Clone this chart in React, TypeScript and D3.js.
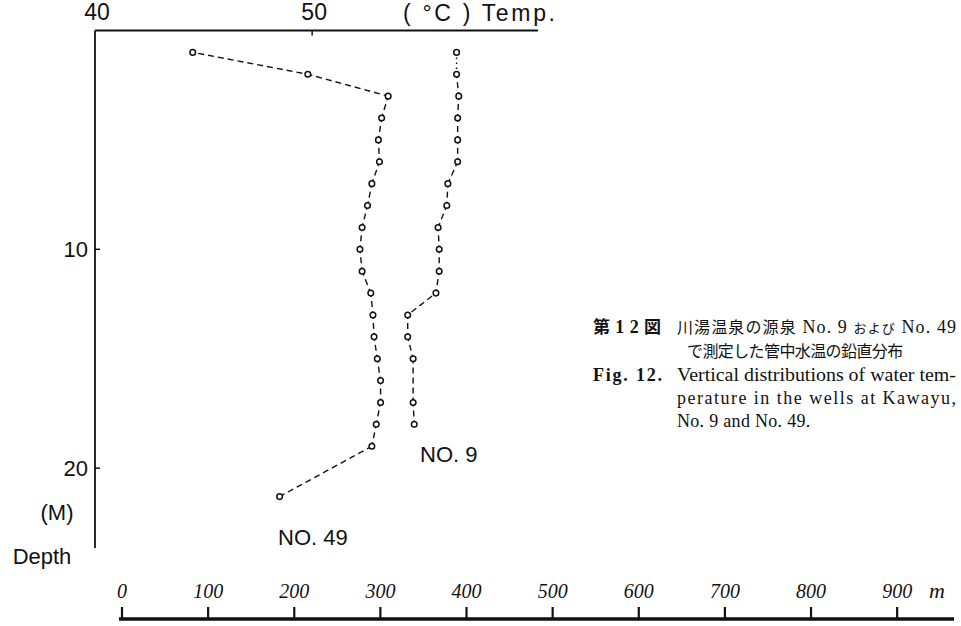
import React from "react";
import * as d3 from "d3";

// Well temperature profiles (depth in m, temperature in °C)
const no49Depth = [1, 2, 3, 4, 5, 6, 7, 8, 9, 10, 11, 12, 13, 14, 15, 16, 17, 18, 19, 21.3];
const no49Temp = [44.5, 49.8, 53.5, 53.2, 53.05, 53.1, 52.75, 52.55, 52.3, 52.2, 52.3, 52.7, 52.8, 52.85, 53.0, 53.15, 53.15, 52.95, 52.75, 48.5];

const no9Depth = [1, 2, 3, 4, 5, 6, 7, 8, 9, 10, 11, 12, 13, 14, 15, 17, 18];
const no9Temp = [56.65, 56.65, 56.75, 56.7, 56.7, 56.7, 56.25, 56.2, 55.8, 55.85, 55.85, 55.7, 54.4, 54.4, 54.65, 54.65, 54.7];

const tempTicks = [40, 50];
const depthTicks = [10, 20];
const distTicks = [0, 100, 200, 300, 400, 500, 600, 700, 800, 900];

const INK = "#111";
const SANS = "'Liberation Sans', Arial, sans-serif";
const SERIF = "'Liberation Serif', 'Times New Roman', serif";
const JP = "'Noto Sans CJK JP', sans-serif";

const W = 961;
const H = 626;

const x = d3.scaleLinear().domain([40, 60.4]).range([95, 538]);
const y = d3.scaleLinear().domain([0, 23.65]).range([30.5, 548]);
const xd = d3.scaleLinear().domain([0, 966]).range([122, 954]);

type Pt = { d: number; t: number };

function zip(depth: number[], temp: number[]): Pt[] {
  return depth.map((d, i) => ({ d, t: temp[i] }));
}

function Profile({ pts, dash, firstDash }: { pts: Pt[]; dash: [number, number]; firstDash?: string }) {
  const segs = d3.pairs(pts);
  return (
    <g>
      {segs.map(([a, b], i) => {
        const x1 = x(a.t), y1 = y(a.d), x2 = x(b.t), y2 = y(b.d);
        const L = Math.hypot(x2 - x1, y2 - y1);
        const da = i === 0 && firstDash ? firstDash : `${dash[0]} ${dash[1]}`;
        const off = i === 0 && firstDash ? 0 : dash[0] / 2 - L / 2;
        return (
          <line key={i} x1={x1} y1={y1} x2={x2} y2={y2} stroke={INK} strokeWidth={1.4}
            strokeDasharray={da} strokeDashoffset={off} />
        );
      })}
      {pts.map((p, i) => (
        <circle key={i} cx={x(p.t)} cy={y(p.d)} r={2.8} fill="#fff" stroke={INK} strokeWidth={1.5} />
      ))}
    </g>
  );
}

export default function App() {
  const no49 = zip(no49Depth, no49Temp);
  const no9 = zip(no9Depth, no9Temp);
  const [t0, t1] = x.domain();
  const [d0, d1] = y.domain();
  return (
    <svg width={W} height={H} style={{ position: "absolute", left: 0, top: 0, background: "#fff" }}>
      <rect width={W} height={H} fill="#fff" />

      {/* temperature axis (top) */}
      <line x1={x(t0)} y1={y(0)} x2={x(t1)} y2={y(0)} stroke={INK} strokeWidth={1.8} />
      {tempTicks.map((t) => (
        <g key={t}>
          {t !== t0 && <line x1={x(t)} y1={y(0)} x2={x(t)} y2={y(0) + 5} stroke={INK} strokeWidth={1.5} />}
          <text x={x(t) + 2} y={20} textAnchor="middle" fontFamily={SANS} fontSize={23} fill={INK}>{t}</text>
        </g>
      ))}
      <text x={403} y={21} fontFamily={SANS} fontSize={23} fill={INK} textLength={152} lengthAdjust="spacing">( °C ) Temp.</text>

      {/* depth axis (left) */}
      <line x1={x(t0)} y1={y(d0)} x2={x(t0)} y2={y(d1)} stroke={INK} strokeWidth={1.8} />
      {depthTicks.map((d) => (
        <g key={d}>
          <line x1={x(t0)} y1={y(d)} x2={x(t0) + 5} y2={y(d)} stroke={INK} strokeWidth={1.5} />
          <text x={88} y={y(d) + 8} textAnchor="end" fontFamily={SANS} fontSize={22} fill={INK}>{d}</text>
        </g>
      ))}
      <text x={57} y={520} textAnchor="middle" fontFamily={SANS} fontSize={22} fill={INK}>(M)</text>
      <text x={42} y={564} textAnchor="middle" fontFamily={SANS} fontSize={22} fill={INK}>Depth</text>

      {/* profiles */}
      <Profile pts={no49} dash={[6, 4]} />
      <Profile pts={no9} dash={[6, 4]} firstDash="1.5 3.5" />
      <text x={420} y={462} fontFamily={SANS} fontSize={22} fill={INK}>NO. 9</text>
      <text x={278} y={545} fontFamily={SANS} fontSize={22} fill={INK}>NO. 49</text>

      {/* caption */}
      <g fill={INK}>
        <text x={593} y={333} fontFamily={JP} fontSize={17} fontWeight="bold" textLength={68} lengthAdjust="spacing">
          第<tspan fontFamily={SERIF} fontSize={18}>12</tspan>図
        </text>
        <text x={677} y={333} fontFamily={JP} fontSize={16} textLength={279} lengthAdjust="spacing">
          川湯温泉の源泉<tspan fontFamily={SERIF} fontSize={18}> No. 9 </tspan><tspan fontSize={13}>および</tspan><tspan fontFamily={SERIF} fontSize={18}> No. 49</tspan>
        </text>
        <text x={687} y={357} fontFamily={JP} fontSize={16} letterSpacing={-0.6}>で測定した管中水温の鉛直分布</text>
        <text x={593} y={381} fontFamily={SERIF} fontSize={18} fontWeight="bold" textLength={69} lengthAdjust="spacing">Fig. 12.</text>
        <text x={677} y={381} fontFamily={SERIF} fontSize={18} textLength={279} lengthAdjust="spacingAndGlyphs">Vertical distributions of water tem-</text>
        <text x={677} y={404} fontFamily={SERIF} fontSize={18} textLength={279} lengthAdjust="spacing">perature in the wells at Kawayu,</text>
        <text x={677} y={427} fontFamily={SERIF} fontSize={18} letterSpacing={0.3}>No. 9 and No. 49.</text>
      </g>

      {/* distance scale bar */}
      <line x1={xd(0) - 3} y1={619} x2={xd(966)} y2={619} stroke={INK} strokeWidth={3.5} />
      {distTicks.map((v) => (
        <g key={v}>
          <line x1={xd(v)} y1={607} x2={xd(v)} y2={619} stroke={INK} strokeWidth={2.2} />
          <text x={xd(v)} y={598} textAnchor="middle" fontFamily={SERIF} fontStyle="italic" fontSize={20} fill={INK}>{v}</text>
        </g>
      ))}
      <text x={937} y={598} textAnchor="middle" fontFamily={SERIF} fontStyle="italic" fontSize={22} fill={INK}>m</text>
    </svg>
  );
}
